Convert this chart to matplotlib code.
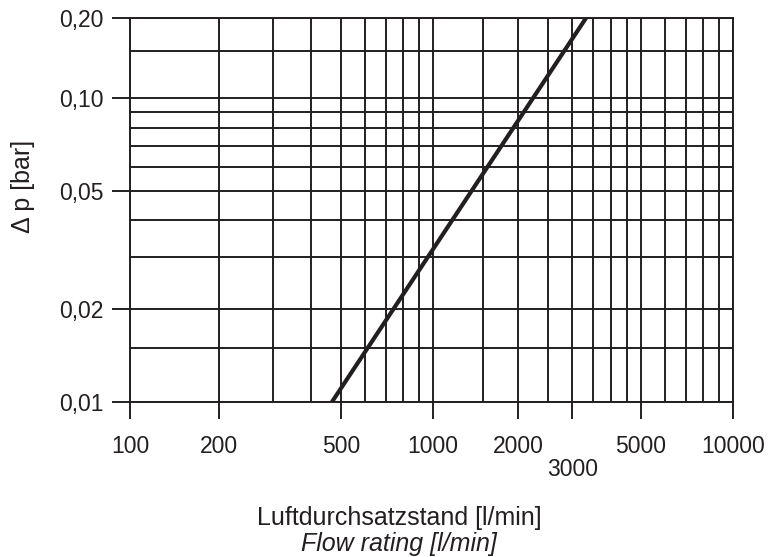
import numpy as np
import matplotlib
matplotlib.use('Agg')
import matplotlib.pyplot as plt

plt.rcParams['font.family'] = ['Liberation Sans', 'DejaVu Sans']

# data
flow = [467, 3320]          # l/min
dp = [0.01, 0.20]           # bar

x_major = [100, 200, 500, 1000, 2000, 3000, 5000, 10000]
x_labels = ['100', '200', '500', '1000', '2000', '\n3000', '5000', '10000']
x_grid = [100, 200, 300, 400, 500, 600, 700, 800, 900, 1000, 1500, 2000, 2500,
          3000, 3500, 4000, 4500, 5000, 6000, 7000, 8000, 9000, 10000]

y_major = [0.01, 0.02, 0.05, 0.10, 0.20]
y_labels = ['0,01', '0,02', '0,05', '0,10', '0,20']
y_grid = [0.01, 0.015, 0.02, 0.03, 0.04, 0.05, 0.06, 0.07, 0.08, 0.09, 0.10, 0.15, 0.20]

# the printed chart is not an exact log grid: piecewise log scale through the labelled values
x_knots = [100, 200, 500, 1000, 2000, 5000, 10000]
x_knot_pos = [130, 219, 341, 433, 518, 641, 733]
y_knots = [0.01, 0.02, 0.05, 0.10, 0.20]
y_knot_pos = [0, 93, 211, 304, 384]


def piecewise_log(vals, pos):
    lv = np.log10(np.array(vals, float))
    p = np.array(pos, float)
    s0 = (p[1] - p[0]) / (lv[1] - lv[0])
    s1 = (p[-1] - p[-2]) / (lv[-1] - lv[-2])
    lv = np.concatenate([[lv[0] - 20], lv, [lv[-1] + 20]])
    p = np.concatenate([[p[0] - 20 * s0], p, [p[-1] + 20 * s1]])

    def fwd(v):
        v = np.asarray(v, float)
        return np.interp(np.log10(np.clip(v, 1e-30, None)), lv, p)

    def inv(q):
        return 10 ** np.interp(np.asarray(q, float), p, lv)
    return fwd, inv


ink = '#231f20'
fig = plt.figure(figsize=(7.78, 5.57), dpi=100)
ax = fig.add_axes([130 / 778, 1 - 402 / 557, 603 / 778, 384 / 557])

ax.set_xscale('function', functions=piecewise_log(x_knots, x_knot_pos))
ax.set_yscale('function', functions=piecewise_log(y_knots, y_knot_pos))

ax.plot(flow, dp, color=ink, lw=3.0, solid_capstyle='butt', zorder=3)

ax.set_xlim(100, 10000)
ax.set_ylim(0.01, 0.20)

ax.set_xticks(x_major)
ax.set_xticklabels(x_labels)
ax.set_xticks(x_grid, minor=True)
ax.set_yticks(y_major)
ax.set_yticklabels(y_labels)
ax.set_yticks(y_grid, minor=True)

ax.tick_params(which='major', direction='out', width=1.4, color=ink,
               labelsize=16.5, labelcolor=ink)
ax.tick_params(axis='x', which='major', length=12, pad=12)
ax.tick_params(axis='y', which='major', length=13, pad=6)
ax.tick_params(which='minor', length=0)
for lab in ax.get_xticklabels():
    lab.set_linespacing(1.0)
ax.grid(which='both', color=ink, lw=1.4)
for s in ax.spines.values():
    s.set_color(ink)
    s.set_linewidth(1.4)

fig.text(399 / 778, 1 - 525 / 557, 'Luftdurchsatzstand [l/min]', ha='center', va='baseline',
         fontsize=18, color=ink)
fig.text(399 / 778, 1 - 550.5 / 557, 'Flow rating [l/min]', ha='center', va='baseline',
         fontsize=18, color=ink, style='italic')
fig.text(23 / 778, 1 - 186 / 557, '\u0394 p [bar]', ha='center', va='center',
         rotation=90, fontsize=18, color=ink)

fig.savefig('out.png', dpi=100)
